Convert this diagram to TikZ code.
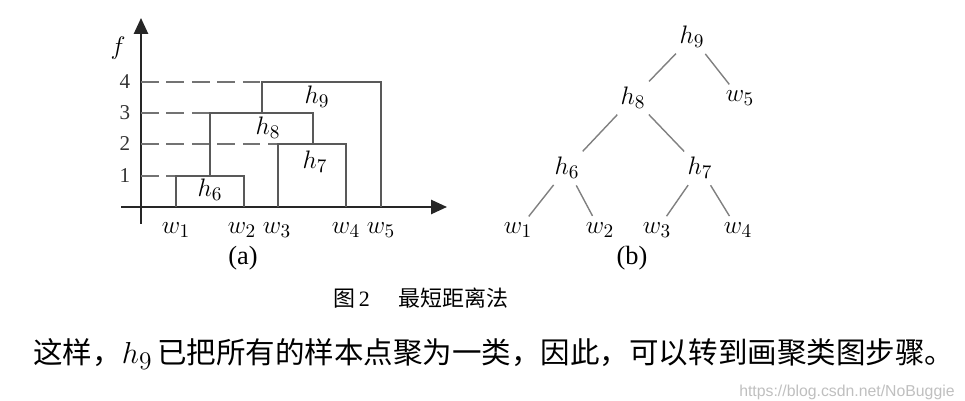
\documentclass[tikz,border=0pt]{standalone}
\usepackage{fontspec}
\setmainfont{Liberation Serif}
\setsansfont{Liberation Sans}
\newfontfamily\cjk{Noto Sans CJK SC}
\usetikzlibrary{arrows.meta}

\begin{document}
\begin{tikzpicture}[x=0.02cm,y=-0.02cm]
  \tikzstyle{axis} = [line width=1.1pt, black!85, -{Triangle[length=9pt,width=8pt]}]
  \tikzstyle{bar} = [line width=1pt, black!65]
  \tikzstyle{guide} = [line width=1pt, black!55, dash pattern=on 10pt off 4.5pt]
  \tikzstyle{lbl} = [inner sep=1pt, font=\fontsize{15}{17}\selectfont]
  \tikzstyle{tick} = [inner sep=1pt, font=\fontsize{12}{14}\selectfont, text=black!80]
  \tikzstyle{edge} = [line width=0.8pt, black!50, shorten <=3pt, shorten >=3pt]
  \useasboundingbox (0,0) rectangle (965,401);

  % (a) dendrogram on axes
  \draw [axis] (141,224) -- (141,18);
  \draw [axis] (121,207) -- (447,207);
  \node (f) [lbl] at (118,48) {$f$};
  \node (t1) [tick] at (125,176) {1};
  \node (t2) [tick] at (125,144) {2};
  \node (t3) [tick] at (125,113) {3};
  \node (t4) [tick] at (125,82) {4};
  \draw [guide] (141,176) -- (176,176);
  \draw [guide] (141,144) -- (278,144);
  \draw [guide] (141,113) -- (210,113);
  \draw [guide] (141,82) -- (262,82);
  \draw [bar] (176,207) -- (176,176) -- (244,176) -- (244,207);
  \draw [bar] (278,207) -- (278,144) -- (346,144) -- (346,207);
  \draw [bar] (210,176) -- (210,113) -- (313,113) -- (313,144);
  \draw [bar] (262,113) -- (262,82) -- (381,82) -- (381,207);
  \node (a6) [lbl] at (210,190) {$h_6$};
  \node (a7) [lbl] at (315,162) {$h_7$};
  \node (a8) [lbl] at (268,128) {$h_8$};
  \node (a9) [lbl] at (317,97) {$h_9$};
  \node (aw1) [lbl] at (176,230) {$w_1$};
  \node (aw2) [lbl] at (242,230) {$w_2$};
  \node (aw3) [lbl] at (277,230) {$w_3$};
  \node (aw4) [lbl] at (346,230) {$w_4$};
  \node (aw5) [lbl] at (381,230) {$w_5$};
  \node (capa) [lbl] at (243,258) {(a)};

  % (b) tree
  \node (h9) [lbl] at (692,37) {$h_9$};
  \node (h8) [lbl] at (633,98) {$h_8$};
  \node (w5) [lbl] at (740,98) {$w_5$};
  \node (h6) [lbl] at (567,168) {$h_6$};
  \node (h7) [lbl] at (700,168) {$h_7$};
  \node (w1) [lbl] at (518,230) {$w_1$};
  \node (w2) [lbl] at (600,230) {$w_2$};
  \node (w3) [lbl] at (657,230) {$w_3$};
  \node (w4) [lbl] at (738,230) {$w_4$};
  \node (capb) [lbl] at (632,258) {(b)};
  \draw [edge] (h9) -- (h8);
  \draw [edge] (h9) -- (w5);
  \draw [edge] (h8) -- (h6);
  \draw [edge] (h8) -- (h7);
  \draw [edge] (h6) -- (w1);
  \draw [edge] (h6) -- (w2);
  \draw [edge] (h7) -- (w3);
  \draw [edge] (h7) -- (w4);

  % caption and text
  \node (cap) [anchor=west, inner sep=0pt, font=\fontsize{12.5}{15}\selectfont] at (333,298)
    {{\cjk 图}\,2\hspace{1.3em}{\cjk 最短距离法}};
  \node (body) [anchor=west, inner sep=0pt, font=\fontsize{16.8}{20}\selectfont] at (33,354)
    {{\cjk 这样，}{\fontsize{19}{20}\selectfont$h_9$}\,{\cjk 已把所有的样本点聚为一类，因此，可以转到画聚类图步骤。}};
  \node (mark) [anchor=east, inner sep=0pt, text=black!25, font=\sffamily\fontsize{9}{11}\selectfont] at (955,392)
    {https://blog.csdn.net/NoBuggie};
\end{tikzpicture}
\end{document}
